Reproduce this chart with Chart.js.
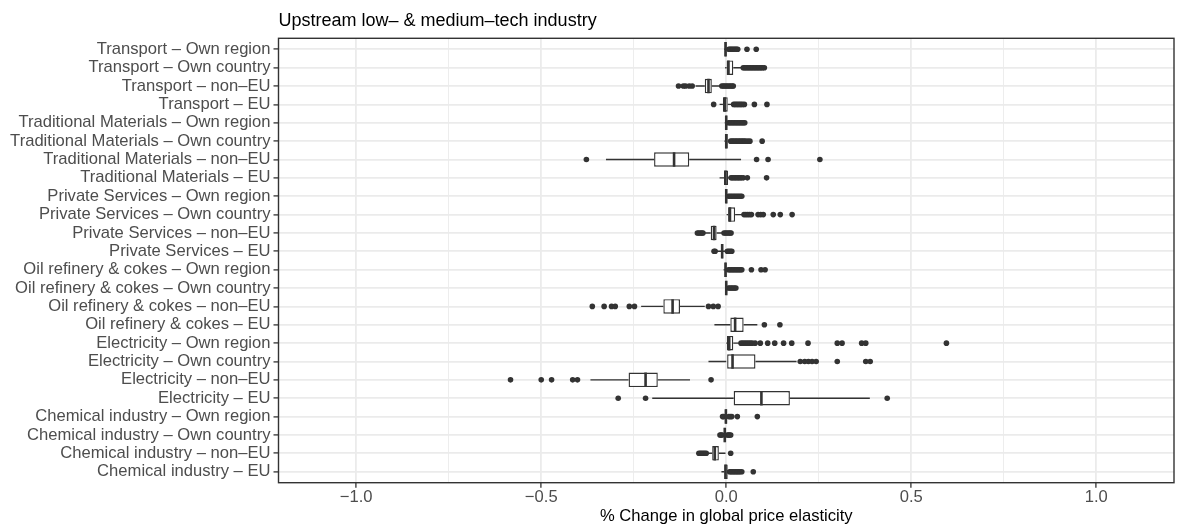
<!DOCTYPE html>
<html>
<head>
<meta charset="utf-8">
<script src="https://cdn.jsdelivr.net/npm/chart.js@4.4.1/dist/chart.umd.min.js"></script>
<style>
  html, body { margin: 0; padding: 0; background: #ffffff; }
  canvas { display: block; }
</style>
</head>
<body>
<canvas id="chart" width="1178" height="528"></canvas>
<script>
// Rows, top to bottom
const categories = [
  'Transport – Own region',
  'Transport – Own country',
  'Transport – non–EU',
  'Transport – EU',
  'Traditional Materials – Own region',
  'Traditional Materials – Own country',
  'Traditional Materials – non–EU',
  'Traditional Materials – EU',
  'Private Services – Own region',
  'Private Services – Own country',
  'Private Services – non–EU',
  'Private Services – EU',
  'Oil refinery & cokes – Own region',
  'Oil refinery & cokes – Own country',
  'Oil refinery & cokes – non–EU',
  'Oil refinery & cokes – EU',
  'Electricity – Own region',
  'Electricity – Own country',
  'Electricity – non–EU',
  'Electricity – EU',
  'Chemical industry – Own region',
  'Chemical industry – Own country',
  'Chemical industry – non–EU',
  'Chemical industry – EU'
];

// Box statistics per row
const q1 = [-0.004, 0.001, -0.058, -0.009, -0.002, -0.003, -0.195, -0.006,
            -0.002, 0.005, -0.042, -0.013, -0.004, -0.001, -0.170, 0.011,
            0.002, 0.000, -0.264, 0.020, -0.003, -0.006, -0.038, -0.005];
const median = [-0.002, 0.006, -0.048, -0.004, 0.000, 0.000, -0.141, -0.002,
                0.000, 0.010, -0.033, -0.011, -0.002, 0.000, -0.145, 0.024,
                0.008, 0.017, -0.218, 0.095, -0.001, -0.004, -0.031, -0.002];
const q3 = [0.001, 0.019, -0.039, 0.004, 0.002, 0.004, -0.100, 0.005,
            0.002, 0.024, -0.026, -0.009, 0.001, 0.002, -0.125, 0.047,
            0.019, 0.079, -0.185, 0.172, 0.002, -0.002, -0.020, 0.004];
const whiskerLow = [-0.006, -0.003, -0.083, -0.018, -0.004, -0.005, -0.325, -0.018,
                    -0.003, 0.001, -0.060, -0.025, -0.007, -0.002, -0.230, -0.032,
                    0.000, -0.048, -0.367, -0.200, -0.005, -0.008, -0.048, -0.013];
const whiskerHigh = [0.004, 0.042, -0.014, 0.014, 0.004, 0.008, 0.040, 0.010,
                     0.004, 0.043, -0.010, 0.000, 0.004, 0.004, -0.058, 0.084,
                     0.035, 0.190, -0.098, 0.388, 0.005, 0.000, -0.002, 0.007];

// Outlying observations per row
const outliers = [
  [0.007, 0.010, 0.013, 0.016, 0.019, 0.022, 0.025, 0.028, 0.031, 0.056, 0.081],
  [0.046, 0.050, 0.054, 0.058, 0.062, 0.066, 0.070, 0.074, 0.078, 0.082, 0.086, 0.090, 0.094, 0.098, 0.103],
  [-0.129, -0.116, -0.110, -0.100, -0.092, -0.012, -0.008, -0.004, 0.000, 0.004, 0.008, 0.012, 0.016, 0.019],
  [-0.034, 0.020, 0.024, 0.028, 0.032, 0.036, 0.040, 0.044, 0.049, 0.076, 0.110],
  [0.006, 0.010, 0.014, 0.018, 0.022, 0.026, 0.030, 0.034, 0.038, 0.042, 0.046, 0.050],
  [0.012, 0.016, 0.020, 0.024, 0.028, 0.032, 0.036, 0.040, 0.044, 0.048, 0.052, 0.058, 0.064, 0.097],
  [-0.378, 0.082, 0.113, 0.253],
  [0.013, 0.017, 0.021, 0.025, 0.029, 0.033, 0.037, 0.041, 0.046, 0.057, 0.109],
  [0.006, 0.010, 0.014, 0.018, 0.022, 0.026, 0.030, 0.034, 0.038, 0.042],
  [0.048, 0.053, 0.058, 0.063, 0.068, 0.086, 0.093, 0.100, 0.127, 0.146, 0.178],
  [-0.078, -0.074, -0.070, -0.066, -0.063, -0.006, -0.002, 0.002, 0.006, 0.010, 0.013],
  [-0.033, -0.030, 0.003, 0.007, 0.011, 0.015],
  [0.006, 0.010, 0.014, 0.018, 0.022, 0.026, 0.030, 0.034, 0.038, 0.042, 0.068, 0.094, 0.105],
  [0.006, 0.010, 0.014, 0.018, 0.022, 0.026],
  [-0.362, -0.330, -0.310, -0.300, -0.262, -0.248, -0.048, -0.035, -0.022],
  [0.103, 0.145],
  [0.040, 0.045, 0.050, 0.055, 0.060, 0.065, 0.070, 0.078, 0.092, 0.112, 0.131, 0.155, 0.177, 0.221, 0.300, 0.313, 0.366, 0.377, 0.595],
  [0.200, 0.212, 0.222, 0.232, 0.243, 0.300, 0.377, 0.389],
  [-0.583, -0.500, -0.472, -0.415, -0.402, -0.041],
  [-0.292, -0.218, 0.435],
  [-0.010, -0.007, 0.007, 0.011, 0.015, 0.030, 0.084],
  [-0.017, -0.014, -0.011, 0.003, 0.006, 0.009, 0.012],
  [-0.074, -0.070, -0.066, -0.062, -0.058, -0.054, 0.012],
  [0.009, 0.013, 0.017, 0.021, 0.025, 0.029, 0.033, 0.037, 0.042, 0.073]
];

// x axis ticks (major ones are labelled)
const xTickValues = [-1, -0.75, -0.5, -0.25, 0, 0.25, 0.5, 0.75, 1];
const xTickLabels = ['−1.0', '', '−0.5', '', '0.0', '', '0.5', '', '1.0'];

const INK = '#333333';
const GRID = '#ebebeb';
const FONT = "'Liberation Sans', Arial, Helvetica, sans-serif";
const BOX_HEIGHT = 14.5;

// Whiskers below the boxes, medians over them, panel frame on top
const boxParts = {
  id: 'boxParts',
  beforeDatasetDraw(chart, args) {
    if (args.index !== 0) return;
    const ctx = chart.ctx, xs = chart.scales.x, ys = chart.scales.y;
    ctx.save();
    ctx.strokeStyle = INK;
    ctx.lineWidth = 1.4;
    ctx.beginPath();
    categories.forEach((_, i) => {
      const y = ys.getPixelForValue(i);
      ctx.moveTo(xs.getPixelForValue(whiskerLow[i]), y);
      ctx.lineTo(xs.getPixelForValue(q1[i]), y);
      ctx.moveTo(xs.getPixelForValue(q3[i]), y);
      ctx.lineTo(xs.getPixelForValue(whiskerHigh[i]), y);
    });
    ctx.stroke();
    ctx.restore();
  },
  afterDatasetDraw(chart, args) {
    if (args.index !== 0) return;
    const ctx = chart.ctx, xs = chart.scales.x, ys = chart.scales.y;
    ctx.save();
    ctx.strokeStyle = INK;
    ctx.lineWidth = 2.6;
    ctx.beginPath();
    categories.forEach((_, i) => {
      const y = ys.getPixelForValue(i);
      const x = xs.getPixelForValue(median[i]);
      ctx.moveTo(x, y - BOX_HEIGHT / 2);
      ctx.lineTo(x, y + BOX_HEIGHT / 2);
    });
    ctx.stroke();
    ctx.restore();
  },
  afterDraw(chart) {
    const a = chart.chartArea, ctx = chart.ctx;
    ctx.save();
    ctx.strokeStyle = INK;
    ctx.lineWidth = 1.4;
    ctx.strokeRect(a.left, a.top, a.right - a.left, a.bottom - a.top);
    ctx.restore();
  }
};

const boxData = categories.map((_, i) => ({ x: [q1[i], q3[i]], y: i }));
const outlierData = [];
outliers.forEach((vals, i) => vals.forEach(v => outlierData.push({ x: v, y: i })));

new Chart(document.getElementById('chart'), {
  type: 'bar',
  data: {
    datasets: [
      {
        type: 'bar',
        indexAxis: 'y',
        data: boxData,
        order: 0,
        backgroundColor: '#ffffff',
        borderColor: INK,
        borderWidth: 1.4,
        borderSkipped: false,
        inflateAmount: 0,
        barThickness: BOX_HEIGHT
      },
      {
        type: 'scatter',
        data: outlierData,
        order: 1,
        pointRadius: 2.8,
        pointBackgroundColor: INK,
        pointBorderWidth: 0,
        showLine: false
      }
    ]
  },
  plugins: [boxParts],
  options: {
    responsive: false,
    devicePixelRatio: 1,
    animation: false,
    layout: { padding: { left: 0, right: 1, top: 0, bottom: 0 } },
    plugins: {
      legend: { display: false },
      tooltip: { enabled: false },
      title: {
        display: true,
        text: 'Upstream low– & medium–tech industry',
        align: 'start',
        fullSize: false,
        color: '#000000',
        font: { family: FONT, size: 18, weight: 'normal', lineHeight: 1.2 },
        padding: { top: 10, bottom: 6.7 }
      }
    },
    scales: {
      x: {
        type: 'linear',
        position: 'bottom',
        offset: false,
        min: -1.21,
        max: 1.21,
        afterBuildTicks(scale) { scale.ticks = xTickValues.map(v => ({ value: v })); },
        afterFit(scale) { scale.height = 45.3; },
        border: { display: false },
        grid: {
          offset: false,
          color: GRID,
          lineWidth: c => (xTickLabels[c.index] ? 1.8 : 0.9),
          drawTicks: true,
          tickLength: 5,
          tickWidth: 1.3,
          tickColor: c => (xTickLabels[c.index] ? INK : 'rgba(0,0,0,0)')
        },
        ticks: {
          autoSkip: false,
          maxRotation: 0,
          padding: 0,
          color: '#4d4d4d',
          font: { family: FONT, size: 16.6, lineHeight: 1.2 },
          callback: (v, i) => xTickLabels[i]
        },
        title: {
          display: true,
          text: '% Change in global price elasticity',
          color: '#000000',
          font: { family: FONT, size: 16.6, lineHeight: 1.2 },
          padding: { top: 0, bottom: 2 }
        }
      },
      y: {
        type: 'linear',
        position: 'left',
        offset: false,
        reverse: true,
        beginAtZero: false,
        min: -0.6,
        max: categories.length - 0.4,
        afterBuildTicks(scale) { scale.ticks = categories.map((_, i) => ({ value: i })); },
        afterFit(scale) { scale.width = 278.5; },
        border: { display: false },
        grid: {
          offset: false,
          color: GRID,
          lineWidth: 1.8,
          drawTicks: true,
          tickLength: 5,
          tickWidth: 1.3,
          tickColor: INK
        },
        ticks: {
          autoSkip: false,
          padding: 3,
          color: '#4d4d4d',
          font: { family: FONT, size: 16.6, lineHeight: 1.2 },
          callback: v => categories[v]
        }
      }
    }
  }
});
</script>
</body>
</html>
